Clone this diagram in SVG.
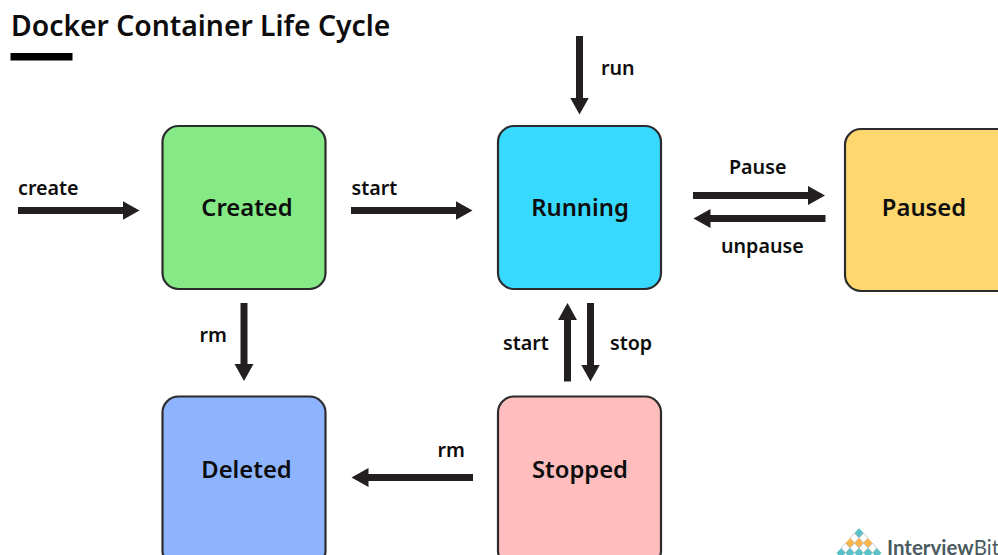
<svg xmlns="http://www.w3.org/2000/svg" width="998" height="555" viewBox="0 0 998 555">
<style>
text{font-family:"Noto Sans","Lato",sans-serif;fill:#0d0d0d}
.t{font-size:23.800px;font-weight:600;text-anchor:middle}
.l{font-size:19.700px;font-weight:600}
.b{stroke:#2b2b2d;stroke-width:2.2}
.c line{stroke:#231f20;stroke-width:7}
.teal{fill:#5cc0c8}.or{fill:#f9b54c}.w{fill:#fff;stroke:#9aa5a8;stroke-width:.6}
</style>
<defs>
<marker id="h" markerUnits="userSpaceOnUse" markerWidth="20" markerHeight="20" refX="1" refY="10" orient="auto"><path d="M0 0.5L17 10L0 19.5Z" fill="#231f20"/></marker>
<polygon id="d" points="0,-4.800 4.500,0 0,4.800 -4.500,0"/>
</defs>
<rect width="998" height="555" fill="#fff"/>
<text x="11" y="36" style="font-size:28.300px;font-weight:600">Docker Container Life Cycle</text>
<rect x="10.500" y="53" width="62" height="7.500" fill="#000"/>
<g id="created"><rect class="b" x="162.500" y="126" width="163" height="163" rx="16" fill="#85e985"/><text class="t" x="247" y="215.500">Created</text></g>
<g id="running"><rect class="b" x="498" y="126" width="163" height="163" rx="16" fill="#38d9ff"/><text class="t" x="580" y="215.500">Running</text></g>
<g id="paused"><rect class="b" x="845" y="129" width="170" height="162" rx="16" fill="#ffd76f"/><text class="t" x="924" y="215.500">Paused</text></g>
<g id="deleted"><rect class="b" x="162.500" y="396.500" width="163" height="170" rx="16" fill="#8fb4ff"/><text class="t" x="246.500" y="477.500">Deleted</text></g>
<g id="stopped"><rect class="b" x="498" y="396.500" width="163" height="170" rx="16" fill="#ffbdbd"/><text class="t" x="580" y="477.500">Stopped</text></g>
<g id="connectors" class="c">
<line x1="18" y1="210.500" x2="123.500" y2="210.500" marker-end="url(#h)"/>
<line x1="351" y1="210.500" x2="456.500" y2="210.500" marker-end="url(#h)"/>
<line x1="579.500" y1="36" x2="579.500" y2="98.500" marker-end="url(#h)"/>
<line x1="693" y1="195.500" x2="809" y2="195.500" marker-end="url(#h)"/>
<line x1="825.500" y1="218.500" x2="709.500" y2="218.500" marker-end="url(#h)"/>
<line x1="244" y1="303" x2="244" y2="365" marker-end="url(#h)"/>
<line x1="567.500" y1="381.500" x2="567.500" y2="319" marker-end="url(#h)"/>
<line x1="590.500" y1="303" x2="590.500" y2="365.500" marker-end="url(#h)"/>
<line x1="473" y1="477.500" x2="367.500" y2="477.500" marker-end="url(#h)"/>
</g>
<g id="labels">
<text class="l" x="18" y="195">create</text>
<text class="l" x="351.500" y="195">start</text>
<text class="l" x="601" y="75">run</text>
<text class="l" x="729" y="174">Pause</text>
<text class="l" x="721" y="253">unpause</text>
<text class="l" x="199.500" y="342">rm</text>
<text class="l" x="503" y="350">start</text>
<text class="l" x="610" y="350">stop</text>
<text class="l" x="437.500" y="457">rm</text>
</g>
<g id="logo">
<use href="#d" class="teal" x="859" y="533"/>
<use href="#d" class="w" x="854.500" y="538"/><use href="#d" class="w" x="863.500" y="538"/>
<use href="#d" class="or" x="850" y="543"/><use href="#d" class="or" x="859" y="543"/><use href="#d" class="or" x="868" y="543"/>
<use href="#d" class="w" x="845.500" y="548"/><use href="#d" class="w" x="854.500" y="548"/><use href="#d" class="w" x="863.500" y="548"/><use href="#d" class="w" x="872.500" y="548"/>
<use href="#d" class="teal" x="841" y="553"/><use href="#d" class="teal" x="850" y="553"/><use href="#d" class="teal" x="859" y="553"/><use href="#d" class="teal" x="868" y="553"/><use href="#d" class="teal" x="877" y="553"/>
<text x="887" y="555" style="font-family:Lato,sans-serif;font-size:20.500px;font-weight:700;fill:#4a5a60">Interview<tspan style="font-weight:400">Bit</tspan></text>
</g>
</svg>
